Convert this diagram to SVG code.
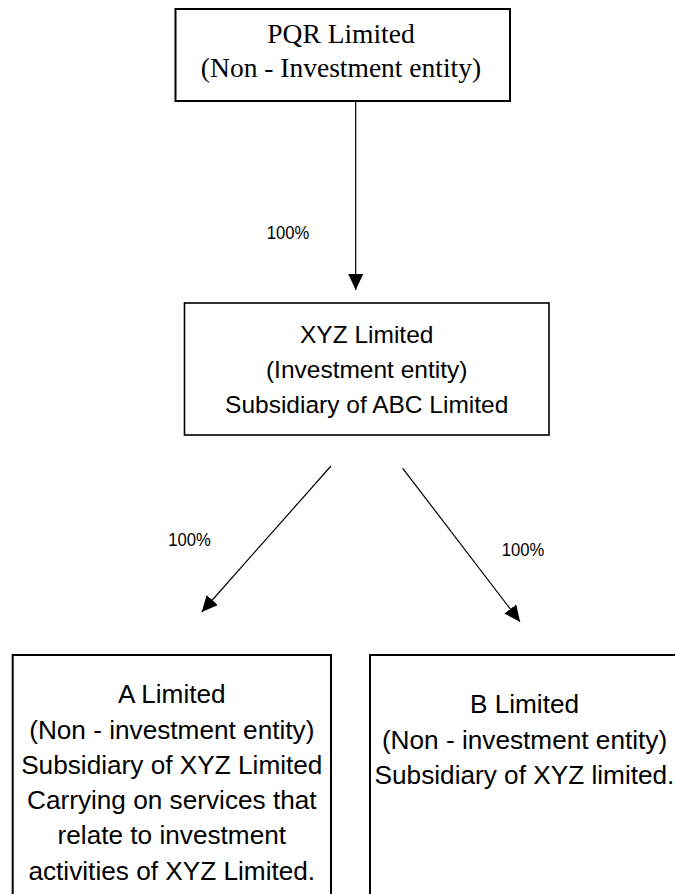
<svg xmlns="http://www.w3.org/2000/svg" width="675" height="894" viewBox="0 0 675 894">
  <style>
    .box { fill: #ffffff; stroke: #000000; stroke-width: 2; }
    .serif { font-family: "Liberation Serif", "Times New Roman", serif; font-size: 27.5px; fill: #000000; text-anchor: middle; }
    .sans { font-family: "Liberation Sans", Arial, sans-serif; fill: #000000; text-anchor: middle; }
    .mid { font-size: 24.5px; }
    .low { font-size: 26.2px; }
    .lbl { font-family: "Liberation Sans", Arial, sans-serif; font-size: 19px; fill: #000000; }
    .conn { stroke: #000000; stroke-width: 1.2; fill: none; marker-end: url(#arrow); }
  </style>
  <defs>
    <marker id="arrow" markerUnits="userSpaceOnUse" markerWidth="16" markerHeight="15" refX="16" refY="7.5" orient="auto">
      <path d="M0,0 L16,7.5 L0,15 z" fill="#000000"/>
    </marker>
  </defs>
  <rect x="0" y="0" width="675" height="894" fill="#ffffff"/>

  <g id="pqr">
    <rect class="box" x="175.5" y="9" width="334.5" height="92"/>
    <text class="serif" x="341" y="42.7">PQR Limited</text>
    <text class="serif" x="341" y="77.3">(Non - Investment entity)</text>
  </g>

  <g id="xyz">
    <rect class="box" x="184.5" y="303" width="364.5" height="132" style="stroke-width:1.6"/>
    <text class="sans mid" x="366.7" y="342.7">XYZ Limited</text>
    <text class="sans mid" x="366.7" y="377.7">(Investment entity)</text>
    <text class="sans mid" x="366.7" y="412.7">Subsidiary of ABC Limited</text>
  </g>

  <g id="a-limited">
    <rect class="box" x="12.7" y="655" width="318.3" height="260"/>
    <text class="sans low" x="171.8" y="703.3">A Limited</text>
    <text class="sans low" x="171.8" y="738.5">(Non - investment entity)</text>
    <text class="sans low" x="171.8" y="773.8">Subsidiary of XYZ Limited</text>
    <text class="sans low" x="171.8" y="809">Carrying on services that</text>
    <text class="sans low" x="171.8" y="844.3">relate to investment</text>
    <text class="sans low" x="171.8" y="879.6">activities of XYZ Limited.</text>
  </g>

  <g id="b-limited">
    <rect class="box" x="370" y="655" width="310" height="260"/>
    <text class="sans low" x="524.5" y="713.3">B Limited</text>
    <text class="sans low" x="524.5" y="748.5">(Non - investment entity)</text>
    <text class="sans low" x="524.5" y="783.8">Subsidiary of XYZ limited.</text>
  </g>

  <g id="connectors">
    <line class="conn" x1="355.7" y1="101.5" x2="355.7" y2="290"/>
    <line class="conn" x1="331" y1="466" x2="201.7" y2="612"/>
    <line class="conn" x1="402.7" y1="468.3" x2="520" y2="621.7"/>
    <text class="lbl" x="266.7" y="239.3" textLength="42.6" lengthAdjust="spacingAndGlyphs">100%</text>
    <text class="lbl" x="168.3" y="545.5" textLength="42.6" lengthAdjust="spacingAndGlyphs">100%</text>
    <text class="lbl" x="501.7" y="556.3" textLength="42.6" lengthAdjust="spacingAndGlyphs">100%</text>
  </g>
</svg>
